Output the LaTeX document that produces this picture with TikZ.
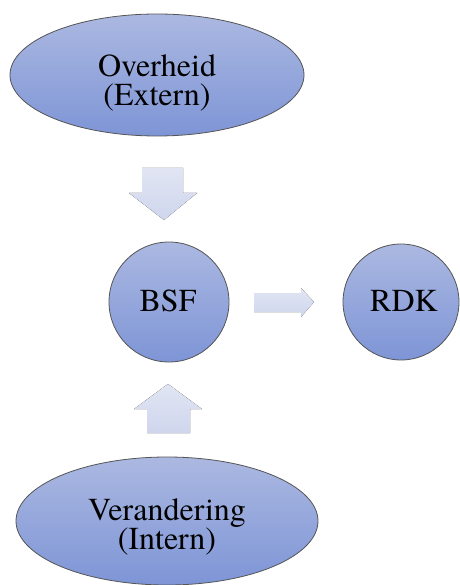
\documentclass[tikz,border=0pt]{standalone}
\usepackage{fontspec}
\newfontfamily\tnr{texgyretermes}[Extension=.otf,UprightFont=*-regular]
\usetikzlibrary{shapes.geometric}
\definecolor{ftop}{RGB}{171,184,225}
\definecolor{fbot}{RGB}{126,149,214}
\definecolor{atop}{RGB}{225,229,243}
\definecolor{abot}{RGB}{207,214,237}
\definecolor{edge}{RGB}{85,85,85}
\tikzset{
  blob/.style={draw=edge, line width=0.8pt, top color=ftop, bottom color=fbot},
  blockarrow/.style={top color=atop, bottom color=abot, draw=none},
  lbl/.style={font=\tnr\fontsize{32}{29.5}\selectfont, align=center, text=black},
  clbl/.style={font=\tnr\fontsize{32}{34}\selectfont, text=black}
}
\begin{document}
\begin{tikzpicture}[x=1pt,y=-1pt]
\useasboundingbox (0,0) rectangle (459,585);
\fill[white] (0,0) rectangle (459,585);
% ellipses and circles
\draw[blob] (157,75) ellipse [x radius=147, y radius=61];
\node[lbl] (over) at (157,83) {Overheid\\(Extern)};
\draw[blob] (167,521) ellipse [x radius=151, y radius=64];
\node[lbl] (ver) at (167,527) {Verandering\\(Intern)};
\draw[blob] (169,302) circle [radius=60];
\node[clbl] (bsf) at (168,301) {BSF};
\draw[blob] (401,302) circle [radius=58];
\node[clbl] (rdk) at (404,301) {RDK};
% block arrows
\fill[blockarrow] (142,168) -- (183,168) -- (183,193) -- (197,193) -- (164,220) -- (129,193) -- (142,193) -- cycle;
\fill[blockarrow] (147,433) -- (190,433) -- (190,409) -- (202,409) -- (168,384) -- (134,409) -- (147,409) -- cycle;
\fill[blockarrow] (254,293) -- (301,293) -- (301,288) -- (314,302) -- (301,317) -- (301,312) -- (254,312) -- cycle;
\end{tikzpicture}
\end{document}
